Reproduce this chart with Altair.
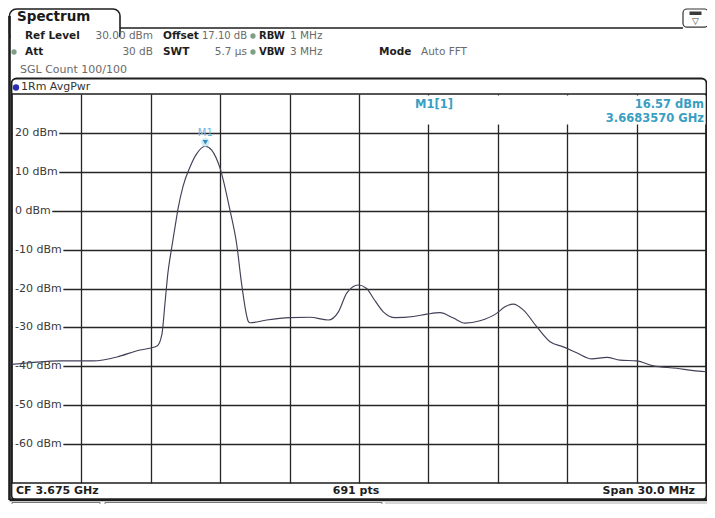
import altair as alt
import pandas as pd

# ---------------- data ----------------
freq_offset_mhz = [0.0, 0.78, 2.08, 3.50, 4.54, 5.40, 6.27, 6.48, 6.61, 6.74, 6.90,
                   7.05, 7.18, 7.39, 7.70, 7.98, 8.357, 8.63, 8.99, 9.42, 9.71, 9.93,
                   10.22, 10.29, 11.01, 12.02, 12.88, 13.67, 14.11, 14.47, 14.97,
                   15.33, 15.62, 16.05, 16.56, 17.35, 17.93, 18.50, 19.08, 19.58,
                   20.23, 20.95, 21.31, 21.67, 22.10, 22.68, 23.26, 23.83, 24.41,
                   25.06, 25.71, 26.28, 27.00, 27.72, 28.73, 29.45, 30.0]
level_dbm = [-39.5, -39.1, -38.6, -38.6, -37.6, -36.0, -34.8, -31.8, -24.0, -16.0, -9.6,
             -4.1, 0.6, 6.2, 11.3, 14.6, 16.57, 15.6, 11.0, 0.2, -8.5, -19.0,
             -28.5, -28.8, -28.1, -27.5, -27.4, -28.1, -26.0, -21.2, -19.1,
             -20.0, -22.5, -26.0, -27.5, -27.2, -26.6, -26.2, -27.6, -28.9,
             -28.3, -26.4, -24.7, -24.0, -25.5, -29.8, -33.7, -35.0, -36.5,
             -38.1, -37.7, -38.4, -38.6, -39.9, -40.5, -41.1, -41.4]
start_mhz = 3660.0
cf_mhz = 3675.0
span_mhz = 30.0
n_points = 691
ref_level_dbm = 30.0
bottom_dbm = -70.0
y_ticks = [20, 10, 0, -10, -20, -30, -40, -50, -60]
grid_freqs_mhz = [3663, 3666, 3669, 3672, 3675, 3678, 3681, 3684, 3687]
marker_freq_mhz = 3668.357
marker_level_dbm = 16.57

FONT = "DejaVu Sans"
X0, Y0 = 12, 94           # page position of the plot area
PW, PH = 694, 389          # plot area size
MARK_C = "#3a9ec2"

trace = pd.DataFrame({"freq_mhz": [start_mhz + f for f in freq_offset_mhz],
                      "level_dbm": level_dbm})
ticks = pd.DataFrame({"tick": y_ticks, "label": [f"{v} dBm" for v in y_ticks]})
marker = pd.DataFrame({"freq_mhz": [marker_freq_mhz], "level_dbm": [marker_level_dbm]})
one = pd.DataFrame({"k": [0]})

xs = alt.Scale(domain=[start_mhz, start_mhz + span_mhz], nice=False, zero=False)
ys = alt.Scale(domain=[bottom_dbm, ref_level_dbm], nice=False, zero=False)
xaxis = alt.Axis(values=grid_freqs_mhz, grid=True, gridColor="#262626", gridWidth=1.3,
                 labels=False, ticks=False, domain=False, title="")
yaxis = alt.Axis(values=y_ticks, grid=True, gridColor="#262626", gridWidth=1.3,
                 labels=False, ticks=False, domain=False, title="")


def px(x):
    return x - X0


def py(y):
    return y - Y0


def text(s, x, y, size=10.5, color="#6a6a6a", weight="normal", align="left", font=FONT):
    return alt.Chart(one).mark_text(text=s, align=align, baseline="middle", fontSize=size,
                                    color=color, fontWeight=weight, font=font).encode(
        x=alt.value(px(x)), y=alt.value(py(y)))


def rule(x1, y1, x2, y2, color="#1e1e1e", width=1.5):
    return alt.Chart(one).mark_rule(color=color, strokeWidth=width).encode(
        x=alt.value(px(x1)), x2=alt.value(px(x2)), y=alt.value(py(y1)), y2=alt.value(py(y2)))


def box(x1, y1, x2, y2, fill="white", stroke=None, width=1.0, radius=0, fill_opacity=1.0):
    kw = dict(fill=fill, cornerRadius=radius, fillOpacity=fill_opacity)
    if stroke:
        kw.update(stroke=stroke, strokeWidth=width)
    return alt.Chart(one).mark_rect(**kw).encode(
        x=alt.value(px(x1)), x2=alt.value(px(x2)), y=alt.value(py(y1)), y2=alt.value(py(y2)))


def dot(x, y, color, size=28):
    return alt.Chart(one).mark_circle(color=color, size=size, opacity=1).encode(
        x=alt.value(px(x)), y=alt.value(py(y)))


BLK = "#1e1e1e"
LBL = "#1e1e1e"
layers = []
# --- tab and frame ---
layers += [
    box(9.5, 9, 120, 40, fill="white", stroke=BLK, width=1.6, radius=7),
    box(10.6, 27.2, 118.9, 45, fill="white"),
    rule(120, 28, 683, 28, BLK, 1.6),
    rule(9.5, 16, 9.5, 500, BLK, 2.6),
    box(683, 9, 708.5, 27.2, fill="white", stroke="#333333", width=1.2, radius=4),
    box(689.5, 11.5, 701.5, 15, fill="#3a3a3a"),
    text("\u25bd", 695.5, 20.5, size=9, color="#444444", align="center"),
    box(11.5, 78.5, 706.5, 500, fill="white", stroke=BLK, width=1.8, radius=5, fill_opacity=0),
    rule(9.5, 499.8, 707, 499.8, BLK, 3),
    box(385, 501.5, 707, 530, fill="#d6d6d6"),
    box(12, 502.5, 100, 530, fill="white", stroke="#777777", width=1),
    box(105, 502.5, 382, 530, fill="white", stroke="#777777", width=1),
]
# --- header ---
H1, H2, H3 = 36, 52, 70
layers += [
    text("Spectrum", 17, 16.5, size=13.5, color="#1a1a1a", weight="bold"),
    text("Ref Level", 25, H1, color=LBL, weight="bold"),
    text(f"{ref_level_dbm:.2f} dBm", 153, H1, align="right"),
    text("Offset", 163, H1, color=LBL, weight="bold"),
    text("17.10 dB", 247, H1, size=10, align="right"),
    dot(253, H1, "#7f9f86"),
    text("RBW", 259, H1, color=LBL, weight="bold", size=10),
    text("1 MHz", 290, H1),
    dot(14, H2, "#7f9f86"),
    text("Att", 25, H2, color=LBL, weight="bold"),
    text("30 dB", 153, H2, align="right"),
    text("SWT", 163, H2, color=LBL, weight="bold"),
    text("5.7 \u00b5s", 247, H2, align="right"),
    dot(253, H2, "#7f9f86"),
    text("VBW", 259, H2, color=LBL, weight="bold", size=10),
    text("3 MHz", 290, H2),
    text("Mode", 379, H2, color=LBL, weight="bold"),
    text("Auto FFT", 421, H2),
    text("SGL Count 100/100", 20, H3, size=11),
    dot(16, 87.5, "#2b2bb5", size=40),
    text("1Rm AvgPwr", 21, 87, color="#333333", size=11),
]
# --- plot: mask for marker table area ---
layers.append(box(365, 95.6, 705.6, 124.5, fill="white"))

# label background masks and y labels
masks = alt.Chart(ticks).transform_calculate(
    ms="1",
    me="5 + 7.05*length(datum.label) - (indexof(datum.label, '-') == 0 ? 3 : 0)",
    t1="datum.tick + 1.3",
    t2="datum.tick - 1.3",
).mark_rect(fill="white").encode(
    x=alt.X("ms:Q", scale=None),
    x2="me:Q",
    y=alt.Y("t1:Q", scale=ys, axis=yaxis),
    y2="t2:Q",
)
labels = alt.Chart(ticks).mark_text(align="left", baseline="middle", fontSize=11,
                                    color="#3a3a3a", font=FONT).encode(
    x=alt.value(3),
    y=alt.Y("tick:Q", scale=ys, axis=yaxis),
    text="label:N",
)
line = alt.Chart(trace).mark_line(color="#404058", strokeWidth=1.15,
                                  interpolate="monotone").encode(
    x=alt.X("freq_mhz:Q", scale=xs, axis=xaxis),
    y=alt.Y("level_dbm:Q", scale=ys, axis=yaxis),
)
halo = alt.Chart(marker).mark_point(shape="circle", filled=True, size=70, color="#cfeaf6",
                                    opacity=1, yOffset=-4).encode(
    x=alt.X("freq_mhz:Q", scale=xs, axis=xaxis),
    y=alt.Y("level_dbm:Q", scale=ys, axis=yaxis))
tri = alt.Chart(marker).mark_point(shape="triangle-down", filled=True, size=28,
                                   color="#2f8cbf", opacity=1, yOffset=-4).encode(
    x=alt.X("freq_mhz:Q", scale=xs, axis=xaxis),
    y=alt.Y("level_dbm:Q", scale=ys, axis=yaxis))
mlabel = alt.Chart(marker).mark_text(text="M1", fontSize=10, color="#6cb8e0", font=FONT,
                                     baseline="middle", yOffset=-13.5).encode(
    x=alt.X("freq_mhz:Q", scale=xs, axis=xaxis),
    y=alt.Y("level_dbm:Q", scale=ys, axis=yaxis))
layers += [masks, labels, line, halo, tri, mlabel]

# --- marker readout ---
layers += [
    text("M1[1]", 415, 105, size=11.5, color=MARK_C, weight="bold"),
    text(f"{marker_level_dbm:.2f} dBm", 704, 105, size=11.5, color=MARK_C, weight="bold", align="right"),
    text(f"{marker_freq_mhz / 1000:.7f} GHz", 704, 119, size=11.5, color=MARK_C, weight="bold", align="right"),
]
# --- footer ---
layers += [
    text(f"CF {cf_mhz / 1000:.3f} GHz", 16, 491, size=11, color="#1e1e1e", weight="bold"),
    text(f"{n_points} pts", 356, 491, size=11, color="#1e1e1e", weight="bold", align="center"),
    text(f"Span {span_mhz:.1f} MHz", 695, 491, size=11, color="#1e1e1e", weight="bold", align="right"),
]

chart = alt.layer(*layers).properties(
    width=PW, height=PH,
    padding={"left": 4, "top": 86, "right": 1, "bottom": 21},
    autosize=alt.AutoSizeParams(type="none"),
    background="white",
).configure_view(stroke=BLK, strokeWidth=1.6)

chart.save("out.html", embed_options={"renderer": "svg", "actions": False})
